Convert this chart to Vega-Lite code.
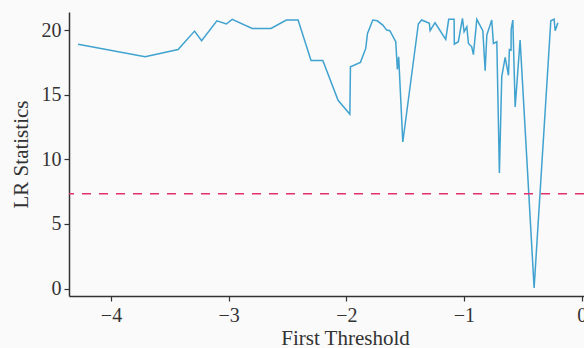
{
  "$schema": "https://vega.github.io/schema/vega-lite/v6.json",
  "autosize": "none",
  "width": 515,
  "height": 284,
  "padding": {"left": 69, "top": 12, "right": 0, "bottom": 52},
  "background": "#fafafa",
  "config": {
    "view": {"stroke": null},
    "font": "Liberation Serif",
    "axis": {
      "grid": false,
      "domainColor": "#333333",
      "domainWidth": 1.5,
      "tickColor": "#333333",
      "tickWidth": 1.2,
      "tickSize": 5,
      "labelFont": "Liberation Serif",
      "labelFontSize": 20,
      "labelColor": "#333333",
      "titleFont": "Liberation Serif",
      "titleFontSize": 21,
      "titleFontWeight": "normal",
      "titleColor": "#333333"
    }
  },
  "layer": [
    {
      "data": {
        "values": [
          {"threshold": -4.28, "lr": 18.9},
          {"threshold": -3.71, "lr": 17.93},
          {"threshold": -3.43, "lr": 18.5},
          {"threshold": -3.29, "lr": 19.92},
          {"threshold": -3.23, "lr": 19.17},
          {"threshold": -3.1, "lr": 20.72},
          {"threshold": -3.02, "lr": 20.47},
          {"threshold": -2.97, "lr": 20.83},
          {"threshold": -2.8, "lr": 20.13},
          {"threshold": -2.64, "lr": 20.13},
          {"threshold": -2.51, "lr": 20.78},
          {"threshold": -2.41, "lr": 20.78},
          {"threshold": -2.3, "lr": 17.65},
          {"threshold": -2.2, "lr": 17.65},
          {"threshold": -2.07, "lr": 14.57},
          {"threshold": -1.97, "lr": 13.49},
          {"threshold": -1.965, "lr": 17.16},
          {"threshold": -1.88, "lr": 17.5},
          {"threshold": -1.835, "lr": 18.58},
          {"threshold": -1.82, "lr": 19.74},
          {"threshold": -1.775, "lr": 20.78},
          {"threshold": -1.737, "lr": 20.72},
          {"threshold": -1.69, "lr": 20.39},
          {"threshold": -1.657, "lr": 20.0},
          {"threshold": -1.63, "lr": 19.95},
          {"threshold": -1.58, "lr": 19.1},
          {"threshold": -1.566, "lr": 16.95},
          {"threshold": -1.555, "lr": 17.93},
          {"threshold": -1.52, "lr": 11.34},
          {"threshold": -1.388, "lr": 20.47},
          {"threshold": -1.36, "lr": 20.78},
          {"threshold": -1.294, "lr": 20.52},
          {"threshold": -1.288, "lr": 19.95},
          {"threshold": -1.246, "lr": 20.57},
          {"threshold": -1.155, "lr": 19.28},
          {"threshold": -1.13, "lr": 20.83},
          {"threshold": -1.084, "lr": 20.83},
          {"threshold": -1.082, "lr": 18.91},
          {"threshold": -1.048, "lr": 19.1},
          {"threshold": -1.013, "lr": 20.9},
          {"threshold": -0.999, "lr": 19.87},
          {"threshold": -0.976, "lr": 20.26},
          {"threshold": -0.962, "lr": 18.96},
          {"threshold": -0.934, "lr": 18.71},
          {"threshold": -0.92, "lr": 18.1},
          {"threshold": -0.891, "lr": 20.83},
          {"threshold": -0.84, "lr": 19.95},
          {"threshold": -0.82, "lr": 16.85},
          {"threshold": -0.806, "lr": 19.61},
          {"threshold": -0.764, "lr": 20.78},
          {"threshold": -0.75, "lr": 18.96},
          {"threshold": -0.721, "lr": 19.1},
          {"threshold": -0.699, "lr": 8.94},
          {"threshold": -0.679, "lr": 16.4},
          {"threshold": -0.65, "lr": 17.88},
          {"threshold": -0.622, "lr": 16.5},
          {"threshold": -0.614, "lr": 18.5},
          {"threshold": -0.6, "lr": 18.45},
          {"threshold": -0.599, "lr": 20.05},
          {"threshold": -0.585, "lr": 20.78},
          {"threshold": -0.565, "lr": 14.05},
          {"threshold": -0.523, "lr": 19.22},
          {"threshold": -0.404, "lr": 0.05},
          {"threshold": -0.262, "lr": 20.72},
          {"threshold": -0.234, "lr": 20.85},
          {"threshold": -0.225, "lr": 19.95},
          {"threshold": -0.202, "lr": 20.57}
        ]
      },
      "mark": {"type": "line", "color": "#3fa2cf", "strokeWidth": 1.5, "clip": true},
      "encoding": {
        "x": {
          "field": "threshold",
          "type": "quantitative",
          "title": "First Threshold",
          "scale": {"domain": [-4.357, 0.02], "nice": false, "zero": false},
          "axis": {"values": [-4, -3, -2, -1, 0], "format": "d", "labelPadding": 4, "titlePadding": 2, "titleX": 276}
        },
        "y": {
          "field": "lr",
          "type": "quantitative",
          "title": "LR Statistics",
          "scale": {"domain": [-0.58, 21.4], "nice": false, "zero": false},
          "axis": {"values": [0, 5, 10, 15, 20], "labelPadding": 3, "titlePadding": 10}
        }
      }
    },
    {
      "data": {"values": [{"critical": 7.34}]},
      "mark": {"type": "rule", "color": "#e3306a", "strokeWidth": 1.5, "strokeDash": [9, 8]},
      "encoding": {
        "y": {"field": "critical", "type": "quantitative"}
      }
    }
  ]
}
